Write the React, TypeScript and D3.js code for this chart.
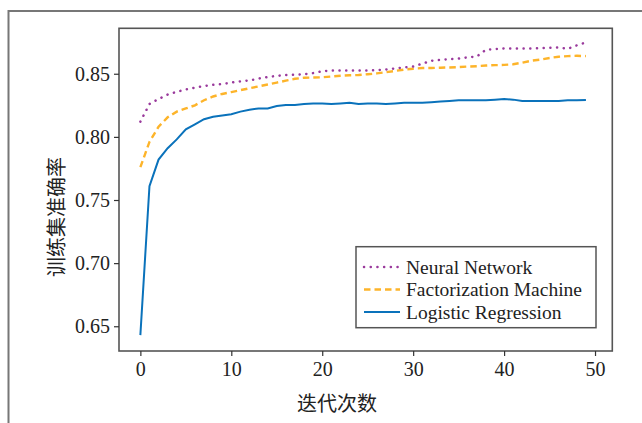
import React, { useEffect, useRef } from 'react';
import * as d3 from 'd3';

const width = 642;
const height = 423;

const epochs = d3.range(0, 50);

const neuralNetwork = [
  0.812, 0.826, 0.830, 0.8335, 0.8357, 0.8376, 0.839, 0.8403, 0.8412, 0.8418,
  0.843, 0.844, 0.8447, 0.8462, 0.8474, 0.8483, 0.849, 0.8492, 0.8496, 0.8505,
  0.852, 0.8526, 0.8526, 0.8526, 0.8526, 0.8526, 0.8528, 0.8534, 0.8542, 0.855,
  0.8557, 0.858, 0.8603, 0.861, 0.8615, 0.862, 0.863, 0.8637, 0.869, 0.8695,
  0.870, 0.870, 0.870, 0.870, 0.8703, 0.8706, 0.8708, 0.8698, 0.8725, 0.8748,
];

const factorizationMachine = [
  0.776, 0.796, 0.808, 0.8155, 0.820, 0.8225, 0.825, 0.829, 0.832, 0.834,
  0.8355, 0.837, 0.8385, 0.840, 0.8415, 0.843, 0.8445, 0.846, 0.8468, 0.847,
  0.8472, 0.8478, 0.8484, 0.8488, 0.849, 0.8496, 0.8503, 0.8512, 0.8522, 0.8533,
  0.854, 0.8545, 0.8545, 0.8548, 0.855, 0.8553, 0.8557, 0.856, 0.8565, 0.8568,
  0.857, 0.8575, 0.8588, 0.8603, 0.8612, 0.8625, 0.8635, 0.864, 0.8642, 0.864,
];

const logisticRegression = [
  0.643, 0.761, 0.782, 0.791, 0.798, 0.806, 0.810, 0.814, 0.816, 0.817,
  0.818, 0.820, 0.8215, 0.8225, 0.8225, 0.8244, 0.8252, 0.8252, 0.826, 0.8265,
  0.8265, 0.826, 0.8265, 0.827, 0.826, 0.8265, 0.8265, 0.826, 0.8265, 0.827,
  0.827, 0.827, 0.8275, 0.828, 0.8285, 0.829, 0.829, 0.829, 0.829, 0.8295,
  0.830, 0.8295, 0.8285, 0.8285, 0.8285, 0.8285, 0.8285, 0.829, 0.829, 0.8293,
];

const xTicks = [0, 10, 20, 30, 40, 50];
const yTicks = [0.65, 0.70, 0.75, 0.80, 0.85];

const series = [
  { name: 'Neural Network', values: neuralNetwork, color: '#9a3a9c', dash: '0.1,6.6', w: 2.5, cap: 'round' },
  { name: 'Factorization Machine', values: factorizationMachine, color: '#fdb42a', dash: '6.5,4', w: 2.4, cap: 'butt' },
  { name: 'Logistic Regression', values: logisticRegression, color: '#0a72bb', dash: null, w: 2, cap: 'butt' },
];

const serif = "'Liberation Serif', 'Times New Roman', serif";
const cjk = "'Noto Sans CJK SC', sans-serif";

const App = () => {
  const svgRef = useRef<SVGSVGElement | null>(null);

  useEffect(() => {
    const svg = d3.select(svgRef.current);
    svg.selectAll('*').remove();

    const left = 119, right = 612.3, top = 28.3, bottom = 351;

    const x = d3.scaleLinear().domain([-2.35, 51.9]).range([left, right]);
    const y = d3.scaleLinear().domain([0.6304, 0.886]).range([bottom, top]);

    // outer frame
    svg.append('path')
      .attr('d', `M8.5,${height} V11 H${width}`)
      .attr('fill', 'none')
      .attr('stroke', '#777')
      .attr('stroke-width', 2);

    svg.append('clipPath').attr('id', 'plot-clip')
      .append('rect')
      .attr('x', left).attr('y', top)
      .attr('width', right - left).attr('height', bottom - top);

    const line = d3.line<number>()
      .x((_, i) => x(epochs[i]))
      .y(d => y(d));

    const g = svg.append('g').attr('clip-path', 'url(#plot-clip)');
    [...series].reverse().forEach(s => {
      g.append('path')
        .datum(s.values)
        .attr('d', line)
        .attr('fill', 'none')
        .attr('stroke', s.color)
        .attr('stroke-width', s.w)
        .attr('stroke-dasharray', s.dash)
        .attr('stroke-linecap', s.cap);
    });

    // plot box
    svg.append('rect')
      .attr('x', left).attr('y', top)
      .attr('width', right - left).attr('height', bottom - top)
      .attr('fill', 'none')
      .attr('stroke', '#555')
      .attr('stroke-width', 1.6);

    // x axis
    const xAxis = svg.append('g')
      .attr('transform', `translate(0,${bottom})`)
      .call(d3.axisBottom(x).tickValues(xTicks).tickSize(5).tickPadding(6).tickFormat(d3.format('d')));
    xAxis.select('.domain').remove();

    // y axis
    const yAxis = svg.append('g')
      .attr('transform', `translate(${left},0)`)
      .call(d3.axisLeft(y).tickValues(yTicks).tickSize(5).tickPadding(4).tickFormat(d3.format('.2f')));
    yAxis.select('.domain').remove();

    [xAxis, yAxis].forEach(a => {
      a.attr('font-family', serif).attr('font-size', 20);
      a.selectAll('line').attr('stroke', '#333').attr('stroke-width', 1.2);
      a.selectAll('text').attr('fill', '#222');
    });

    // axis titles
    svg.append('text')
      .attr('x', 337)
      .attr('y', 411)
      .attr('text-anchor', 'middle')
      .attr('fill', '#222')
      .attr('font-family', cjk)
      .attr('font-size', 20)
      .text('迭代次数');

    svg.append('text')
      .attr('transform', `translate(64,217) rotate(-90)`)
      .attr('text-anchor', 'middle')
      .attr('fill', '#222')
      .attr('font-family', cjk)
      .attr('font-size', 20)
      .text('训练集准确率');

    // legend
    const legend = svg.append('g');
    legend.append('rect')
      .attr('x', 356).attr('y', 246.7)
      .attr('width', 240).attr('height', 81)
      .attr('fill', '#fff')
      .attr('stroke', '#555')
      .attr('stroke-width', 1.5);

    series.forEach((s, i) => {
      const cy = 267 + i * 22.5;
      legend.append('line')
        .attr('x1', 364).attr('x2', 400)
        .attr('y1', cy).attr('y2', cy)
        .attr('stroke', s.color)
        .attr('stroke-width', s.w)
        .attr('stroke-dasharray', s.dash)
        .attr('stroke-linecap', s.cap);
      legend.append('text')
        .attr('x', 406)
        .attr('y', cy)
        .attr('dy', '0.35em')
        .attr('fill', '#222')
        .attr('font-family', serif)
        .attr('font-size', 19.5)
        .text(s.name);
    });
  }, []);

  return (
    <div style={{ position: 'absolute', left: 0, top: 0 }}>
      <svg ref={svgRef} width={width} height={height} style={{ display: 'block', background: '#fff' }}></svg>
    </div>
  );
};

export default App;
